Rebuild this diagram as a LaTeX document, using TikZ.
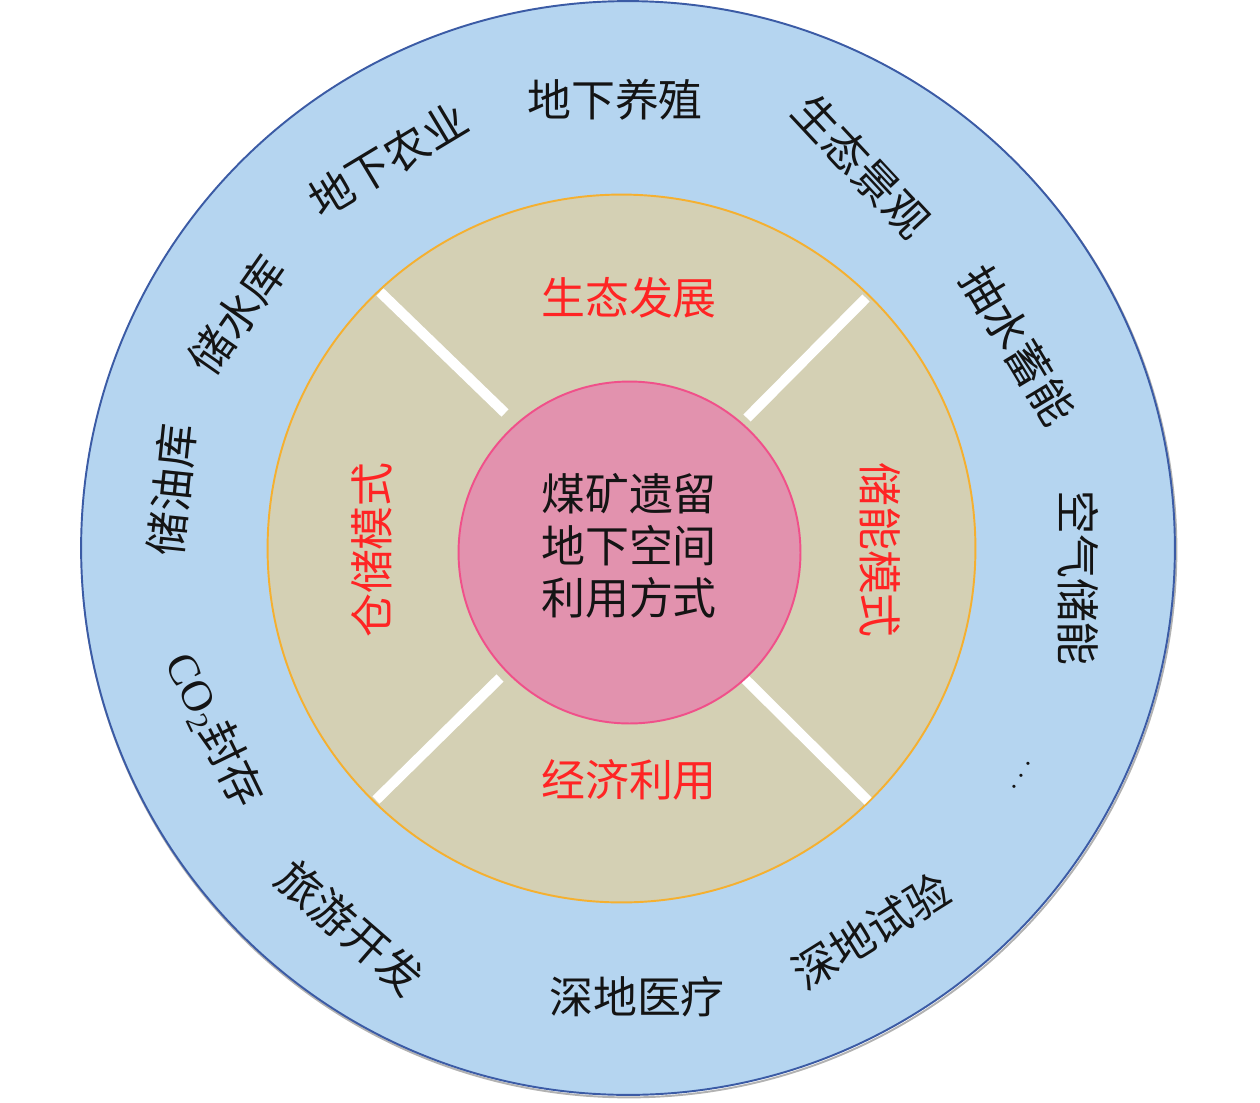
\documentclass[tikz,border=0pt]{standalone}
\usepackage{fontspec}
\setmainfont{Liberation Serif}
\newfontfamily\cjk{Noto Sans CJK SC}
\definecolor{outerfill}{HTML}{B5D5F0}
\definecolor{outerline}{HTML}{3B5BA5}
\definecolor{midfill}{HTML}{D4D0B4}
\definecolor{midline}{HTML}{F5B030}
\definecolor{innerfill}{HTML}{E292AE}
\definecolor{innerline}{HTML}{F0508A}
\definecolor{redtxt}{HTML}{FF2424}
\definecolor{txt}{HTML}{141414}
\begin{document}
\begin{tikzpicture}[x=0.02cm,y=-0.02cm,
  ring/.style={circle, inner sep=0pt, line width=1.1pt},
  lab/.style={font=\cjk\fontsize{25}{30}\selectfont, inner sep=0pt, text=txt},
  redlab/.style={font=\cjk\fontsize{25}{30}\selectfont, inner sep=0pt, text=redtxt},
  gap/.style={draw=white, line width=5.8pt}]
\useasboundingbox (0,0) rectangle (1260,1102);
% rings
\node[ring, draw=gray!60, minimum size=21.9cm] (shadow) at (629,550) {};
\node[ring, fill=outerfill, draw=outerline, minimum size=21.88cm] (outer) at (628,548) {};
\node[ring, fill=midfill, draw=midline, minimum size=14.16cm] (mid) at (621.5,548.5) {};
% white separators
\coordinate (g1a) at (380,292); \coordinate (g1b) at (505,413);
\coordinate (g2a) at (866,298); \coordinate (g2b) at (747,418);
\coordinate (g3a) at (376,800); \coordinate (g3b) at (500,678);
\coordinate (g4a) at (868,801); \coordinate (g4b) at (743,677);
\draw[gap] (g1a) -- (g1b);
\draw[gap] (g2a) -- (g2b);
\draw[gap] (g3a) -- (g3b);
\draw[gap] (g4a) -- (g4b);
\node[ring, fill=innerfill, draw=innerline, minimum size=6.84cm] (inner) at (629.5,552.5) {};
% centre text
\node[lab, align=center, font=\cjk\fontsize{25}{29.5}\selectfont] (core) at (629,546) {煤矿遗留\\地下空间\\利用方式};
% middle ring labels
\node[redlab] (m1) at (629,298) {生态发展};
\node[redlab, rotate=90] (m2) at (372,550) {仓储模式};
\node[redlab, rotate=-90] (m3) at (880,550) {储能模式};
\node[redlab] (m4) at (629,780) {经济利用};
% outer ring labels
\node[lab] (o1) at (615,100) {地下养殖};
\node[lab, rotate=31] (o2) at (388,160) {地下农业};
\node[lab, rotate=-47] (o3) at (862,166) {生态景观};
\node[lab, rotate=55] (o4) at (237,315) {储水库};
\node[lab, rotate=-59] (o5) at (1018,345) {抽水蓄能};
\node[lab, rotate=84] (o6) at (172,490) {储油库};
\node[lab, rotate=-90] (o7) at (1078,578) {空气储能};
\node[lab, rotate=-64] (o8) at (214,730) {{\rmfamily CO\textsubscript{2}}封存};
\node[lab, rotate=57, font=\rmfamily\fontsize{17}{20}\selectfont] (o9) at (1022,776) {$\cdots$};
\node[lab, rotate=-41] (o10) at (350,928) {旅游开发};
\node[lab] (o11) at (637,997) {深地医疗};
\node[lab, rotate=32] (o12) at (871,931) {深地试验};
\end{tikzpicture}
\end{document}
